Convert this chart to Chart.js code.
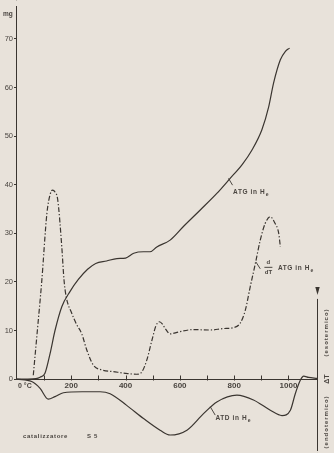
<!DOCTYPE html>
<html><head><meta charset="utf-8">
<script src="https://cdn.jsdelivr.net/npm/chart.js@4"></script>
<style>html,body{margin:0;padding:0;background:#e8e2da;overflow:hidden}</style>
</head><body>
<canvas id="c" width="334" height="453"></canvas>
<script>
// ---- data ----
const atgTemps = [0, 40, 70, 85, 103, 122, 140, 165, 195, 226, 260, 290, 330, 368, 400, 430, 466, 490, 515, 564, 613, 675, 736, 785, 830, 865, 902, 927, 945, 970, 988, 1004];
const atgMass  = [0, 0, 0.1, 0.4, 1.2, 5.3, 10, 14.9, 18, 20.5, 22.6, 23.8, 24.3, 24.8, 24.9, 25.9, 26.2, 26.2, 27.2, 28.6, 31.4, 34.8, 38.2, 41.3, 44.2, 47.1, 51.3, 56, 60.9, 65.7, 67.4, 68.1];

const dtgTemps = [60, 75, 91, 110, 122, 131, 140, 150, 165, 173, 181, 202, 220, 238, 257, 281, 312, 361, 400, 441, 460, 478, 497, 512, 525, 536, 546, 564, 595, 650, 712, 760, 798, 822, 841, 859, 878, 896, 914, 933, 951, 964, 970];
const dtgValues = [0.8, 10, 20, 34, 38, 38.9, 38.5, 36.9, 27.2, 20.5, 17, 13.5, 11.2, 9.4, 6, 2.9, 1.9, 1.5, 1.2, 1.0, 1.5, 3.9, 8, 11, 11.8, 11.3, 10.4, 9.3, 9.7, 10.2, 10.1, 10.4, 10.6, 11.5, 14.2, 19, 23.8, 28.6, 32, 33.4, 32, 30, 27.2];

const atdTemps = [0, 54, 85, 115, 140, 171, 240, 306, 343, 404, 466, 527, 564, 626, 687, 736, 810, 871, 933, 976, 1007, 1025, 1044, 1056, 1074, 1105];
const atdValues = [0, -0.5, -1.9, -4.1, -3.6, -2.8, -2.6, -2.6, -3, -5.4, -8.1, -10.5, -11.5, -10.5, -7.1, -4.7, -3.3, -4.3, -6.4, -7.5, -6.4, -3, -0.2, 0.6, 0.35, 0.15];

const yTickValues = [0, 10, 20, 30, 40, 50, 60, 70];
const xTickValues = [0, 100, 200, 300, 400, 500, 600, 700, 800, 900, 1000];
const xLabelValues = [200, 400, 600, 800, 1000];

const ink = '#3a3530';
const txt = '#4a4540';
const fam = "'Liberation Sans', Arial, sans-serif";

function pts(xs, ys) { return xs.map((x, i) => ({x: x, y: ys[i]})); }

function arrow(ctx, x, y, dir) {
  ctx.beginPath();
  ctx.moveTo(x, y);
  ctx.lineTo(x - 2.2, y - dir * 8);
  ctx.lineTo(x + 2.2, y - dir * 8);
  ctx.closePath();
  ctx.fill();
}

function heLabel(ctx, main, x, y) {
  ctx.font = "bold 6.5px " + fam;
  ctx.textAlign = 'left';
  ctx.textBaseline = 'middle';
  ctx.fillText(main, x, y);
  const w = ctx.measureText(main).width;
  ctx.font = "bold 5px " + fam;
  ctx.fillText('e', x + w + 0.5, y + 2.5);
}

const decor = {
  id: 'decor',
  beforeDraw(chart) {
    const ctx = chart.ctx;
    ctx.save();
    ctx.fillStyle = '#e8e2da';
    ctx.fillRect(0, 0, chart.width, chart.height);
    ctx.restore();
  },
  afterDraw(chart) {
    const ctx = chart.ctx;
    const xs = chart.scales.x, ys = chart.scales.y;
    const X = v => xs.getPixelForValue(v), Y = v => ys.getPixelForValue(v);
    const a = chart.chartArea;
    ctx.save();
    ctx.strokeStyle = ink; ctx.fillStyle = ink; ctx.lineWidth = 1;
    // left axis (mg) from 0 upwards
    const lx = Math.round(a.left) - 0.5;
    ctx.beginPath(); ctx.moveTo(lx, Y(0)); ctx.lineTo(lx, a.top + 6); ctx.stroke();
    arrow(ctx, lx, a.top + 1, 1);
    // x tick marks (above the axis)
    const y0 = Math.round(Y(0)) + 0.5;
    xTickValues.forEach(v => {
      if (v === 0) return;
      const px = Math.round(X(v)) + 0.5;
      ctx.beginPath(); ctx.moveTo(px, y0 - 4); ctx.lineTo(px, y0 + 1); ctx.stroke();
    });
    // right ΔT axis
    const rx = Math.round(a.right) + 0.5;
    ctx.beginPath(); ctx.moveTo(rx, Y(16.5)); ctx.lineTo(rx, a.bottom - 2); ctx.stroke();
    arrow(ctx, rx, Y(17.3), 1);
    arrow(ctx, rx, a.bottom - 0.5, -1);

    ctx.fillStyle = txt;
    // "mg"
    ctx.font = "bold 6.5px " + fam;
    ctx.textAlign = 'left'; ctx.textBaseline = 'middle';
    ctx.fillText('mg', 3, 14);
    // 0 °C
    ctx.font = "bold 7px " + fam;
    ctx.fillText('0 °C', a.left + 1, Y(0) + 7);
    // rotated right labels
    ctx.font = "bold 6px " + fam;
    ctx.letterSpacing = '1px';
    const rot = (s, cx, cy) => {
      ctx.save(); ctx.translate(cx, cy); ctx.rotate(-Math.PI / 2);
      ctx.textAlign = 'center'; ctx.textBaseline = 'middle';
      ctx.fillText(s, 0, 0); ctx.restore();
    };
    rot('(esotermico)', a.right + 9, Y(9.6));
    rot('(endotermico)', a.right + 9, Y(-8.8));
    ctx.letterSpacing = '0px';
    ctx.font = "bold 7px " + fam;
    rot('ΔT', a.right + 10, Y(0));

    // leaders
    ctx.strokeStyle = ink; ctx.lineWidth = 0.9;
    ctx.beginPath(); ctx.moveTo(X(779), Y(41.3)); ctx.lineTo(X(794), Y(39.9)); ctx.stroke();
    ctx.beginPath(); ctx.moveTo(X(880), Y(24.1)); ctx.lineTo(X(896), Y(22.7)); ctx.stroke();
    ctx.beginPath(); ctx.moveTo(X(712), Y(-5.7)); ctx.lineTo(X(730), Y(-7.4)); ctx.stroke();

    ctx.letterSpacing = '0.6px';
    heLabel(ctx, 'ATG in H', X(796), Y(38.4));
    heLabel(ctx, 'ATG in H', X(961), Y(22.9));
    heLabel(ctx, 'ATD in H', X(731), Y(-8.1));
    // d/dT fraction
    ctx.letterSpacing = '0px';
    ctx.font = "bold 6px " + fam;
    ctx.textAlign = 'center'; ctx.textBaseline = 'middle';
    const fx = X(926);
    ctx.fillText('d', fx, Y(24.0));
    ctx.fillText('dT', fx, Y(22.0));
    ctx.beginPath(); ctx.moveTo(fx - 4, Y(23.0)); ctx.lineTo(fx + 4, Y(23.0)); ctx.stroke();

    // catalizzatore S 5
    ctx.letterSpacing = '0.7px';
    ctx.font = "bold 6px " + fam;
    ctx.textAlign = 'left';
    ctx.fillText('catalizzatore', a.left + 6, Y(-11.7));
    ctx.fillText('S 5', a.left + 70, Y(-11.7));
    ctx.restore();
  }
};

new Chart(document.getElementById('c'), {
  type: 'line',
  data: {
    datasets: [
      {label: 'ATG in He', data: pts(atgTemps, atgMass), borderColor: ink, borderWidth: 1.2, pointRadius: 0, cubicInterpolationMode: 'monotone', fill: false},
      {label: 'd/dT ATG in He', data: pts(dtgTemps, dtgValues), borderColor: ink, borderWidth: 1.2, borderDash: [5, 2, 1.3, 2], pointRadius: 0, cubicInterpolationMode: 'monotone', fill: false},
      {label: 'ATD in He', data: pts(atdTemps, atdValues), borderColor: ink, borderWidth: 1.2, pointRadius: 0, cubicInterpolationMode: 'monotone', fill: false}
    ]
  },
  options: {
    responsive: false,
    animation: false,
    devicePixelRatio: 1,
    layout: {padding: {left: 0, right: 17, top: 0, bottom: 0}},
    plugins: {legend: {display: false}, tooltip: {enabled: false}},
    scales: {
      x: {
        type: 'linear', min: 0, max: 1105,
        position: {y: 0},
        afterBuildTicks(s) { s.ticks = xTickValues.map(v => ({value: v})); },
        afterFit(s) { s.paddingLeft = 0; s.paddingRight = 0; },
        ticks: {
          autoSkip: false, maxRotation: 0, padding: 2,
          callback: v => xLabelValues.includes(v) ? String(v) : '',
          font: {size: 8, family: fam, weight: 'bold'}, color: txt
        },
        grid: {display: false, drawTicks: false},
        border: {display: true, color: ink, width: 1}
      },
      y: {
        type: 'linear', min: -15.2, max: 78,
        afterBuildTicks(s) { s.ticks = yTickValues.map(v => ({value: v})); },
        afterFit(s) { s.width = 17; s.paddingTop = 0; s.paddingBottom = 0; },
        ticks: {padding: 1, font: {size: 7.5, family: fam}, color: txt},
        grid: {drawOnChartArea: false, drawTicks: true, tickLength: 3, color: ink},
        border: {display: false}
      }
    }
  },
  plugins: [decor]
});
</script>
</body></html>
